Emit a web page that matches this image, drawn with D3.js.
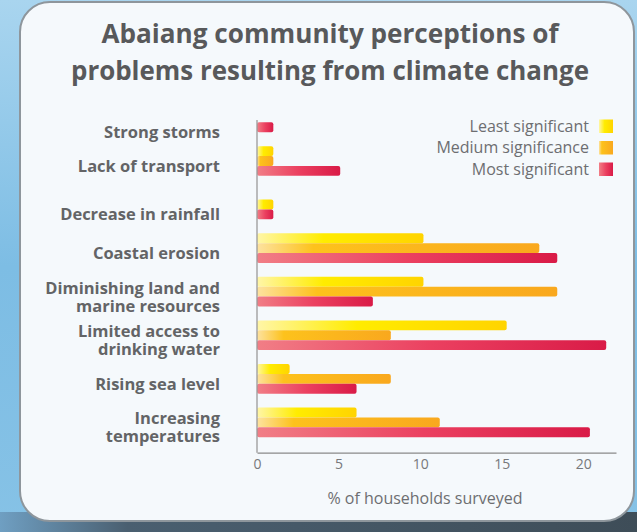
<!DOCTYPE html>
<html>
<head>
<meta charset="utf-8">
<script src="https://cdn.jsdelivr.net/npm/d3@7"></script>
<style>
  body { margin: 0; overflow: hidden; }
  svg { display: block; font-family: "Open Sans", sans-serif; }
</style>
</head>
<body>
<svg width="637" height="532"></svg>
<script>
// data (% of households)
var categories = ["Strong storms", "Lack of transport", "Decrease in rainfall", "Coastal erosion",
  "Diminishing land and\nmarine resources", "Limited access to\ndrinking water",
  "Rising sea level", "Increasing\ntemperatures"];
var leastSig  = [0,   1,   1, 10.2, 10.2, 15.3, 2.0,  6.1];
var mediumSig = [0,   1,   0, 17.3, 18.4,  8.2, 8.2, 11.2];
var mostSig   = [1, 5.1,   1, 18.4,  7.1, 21.4, 6.1, 20.4];
var seriesNames = ["Least significant", "Medium significance", "Most significant"];
var tickValues = [0, 5, 10, 15, 20];

var series = [leastSig, mediumSig, mostSig];
var svg = d3.select("svg");
var defs = svg.append("defs");

// background
var bg = defs.append("linearGradient").attr("id", "sky").attr("x1", 0).attr("y1", 0).attr("x2", 0).attr("y2", 1);
bg.append("stop").attr("offset", "0%").attr("stop-color", "#a9d5ef");
bg.append("stop").attr("offset", "50%").attr("stop-color", "#7dbde4");
bg.append("stop").attr("offset", "100%").attr("stop-color", "#86c2e6");
svg.append("rect").attr("width", 637).attr("height", 532).attr("fill", "url(#sky)");

var shade = defs.append("linearGradient").attr("id", "shade");
shade.append("stop").attr("offset", "0%").attr("stop-color", "#6f9fc2");
shade.append("stop").attr("offset", "20%").attr("stop-color", "#4a5f70");
shade.append("stop").attr("offset", "100%").attr("stop-color", "#3e4d58");
svg.append("rect").attr("x", 0).attr("y", 512).attr("width", 637).attr("height", 20).attr("fill", "url(#shade)");

svg.append("rect")
  .attr("x", 20).attr("y", 2).attr("width", 614).attr("height", 519).attr("rx", 30)
  .attr("fill", "#f5f9fc").attr("stroke", "#8e969c").attr("stroke-width", 2);

// bar gradients
var grads = [
  ["g0", [["0%", "#fff6a8"], ["40%", "#ffec00"], ["100%", "#ffd400"]]],
  ["g1", [["0%", "#fde2a0"], ["20%", "#fdc21c"], ["100%", "#f9a81e"]]],
  ["g2", [["0%", "#f17e86"], ["50%", "#eb4060"], ["100%", "#d91b47"]]]
];
grads.forEach(function(g) {
  var lg = defs.append("linearGradient").attr("id", g[0]);
  g[1].forEach(function(s) {
    lg.append("stop").attr("offset", s[0]).attr("stop-color", s[1]);
  });
});

// title
svg.append("text")
  .attr("text-anchor", "middle")
  .attr("font-weight", 700)
  .attr("font-size", 27)
  .attr("fill", "#58595b")
  .selectAll("tspan")
  .data(["Abaiang community perceptions of", "problems resulting from climate change"])
  .enter().append("tspan")
  .attr("x", 330)
  .attr("y", function(d, i) { return 43 + i * 37; })
  .attr("textLength", function(d, i) { return i ? 518 : 457; })
  .attr("lengthAdjust", "spacingAndGlyphs")
  .text(function(d) { return d; });

var x = d3.scaleLinear().domain([0, 22]).range([257, 616]);
var y = d3.scaleBand().domain(categories).range([102.6, 437.2]).paddingInner(0.32);
var sub = d3.scaleBand().domain([0, 1, 2]).range([0, y.bandwidth()]);
var axisY = 452.7;

// bars: non-zero bars of a category are stacked to the bottom of its band
categories.forEach(function(cat, i) {
  var shown = [0, 1, 2].filter(function(s) { return series[s][i] > 0; });
  var g = svg.append("g").attr("transform", "translate(0," + y(cat) + ")");
  g.selectAll("rect")
    .data(shown)
    .enter().append("rect")
    .attr("x", x(0))
    .attr("y", function(s, j) { return sub(3 - shown.length + j); })
    .attr("width", function(s) { return x(series[s][i]) - x(0); })
    .attr("height", sub.bandwidth())
    .attr("rx", 2)
    .attr("fill", function(s) { return "url(#g" + s + ")"; });

  // category label, centred on the visible bars
  var lines = cat.split("\n");
  var mid = y(cat) + y.bandwidth() - shown.length * sub.bandwidth() / 2 + 5;
  svg.append("text")
    .attr("text-anchor", "end")
    .attr("font-weight", 700)
    .attr("font-size", 16.5)
    .attr("fill", "#636466")
    .selectAll("tspan")
    .data(lines)
    .enter().append("tspan")
    .attr("x", 220)
    .attr("y", function(d, k) { return mid + 6 + (k - (lines.length - 1) / 2) * 18; })
    .text(function(d) { return d; });
});

// axes
svg.append("line")
  .attr("x1", x(0)).attr("x2", x(0))
  .attr("y1", 120).attr("y2", axisY)
  .attr("stroke", "#9a9a9a").attr("stroke-width", 1.3);

var xAxis = svg.append("g")
  .attr("transform", "translate(0," + axisY + ")")
  .call(d3.axisBottom(x).tickValues(tickValues).tickSize(0).tickSizeOuter(0).tickPadding(6));
xAxis.select(".domain").attr("stroke", "#8a8a8a").attr("stroke-width", 1.3);
xAxis.selectAll("text")
  .attr("font-family", "Open Sans, sans-serif")
  .attr("font-size", 14)
  .attr("fill", "#77787b");

svg.append("text")
  .attr("x", 425).attr("y", 504)
  .attr("text-anchor", "middle")
  .attr("font-size", 16)
  .attr("fill", "#6d6e71")
  .text("% of households surveyed");

// legend
var legend = svg.append("g").selectAll("g")
  .data(seriesNames)
  .enter().append("g")
  .attr("transform", function(d, i) { return "translate(0," + (126 + i * 21.5) + ")"; });
legend.append("rect")
  .attr("x", 599).attr("y", -6.5)
  .attr("width", 14).attr("height", 13.5)
  .attr("fill", function(d, i) { return "url(#g" + i + ")"; });
legend.append("text")
  .attr("x", 589).attr("y", 5.5)
  .attr("text-anchor", "end")
  .attr("font-size", 16)
  .attr("fill", "#6d6e71")
  .text(function(d) { return d; });
</script>
</body>
</html>
